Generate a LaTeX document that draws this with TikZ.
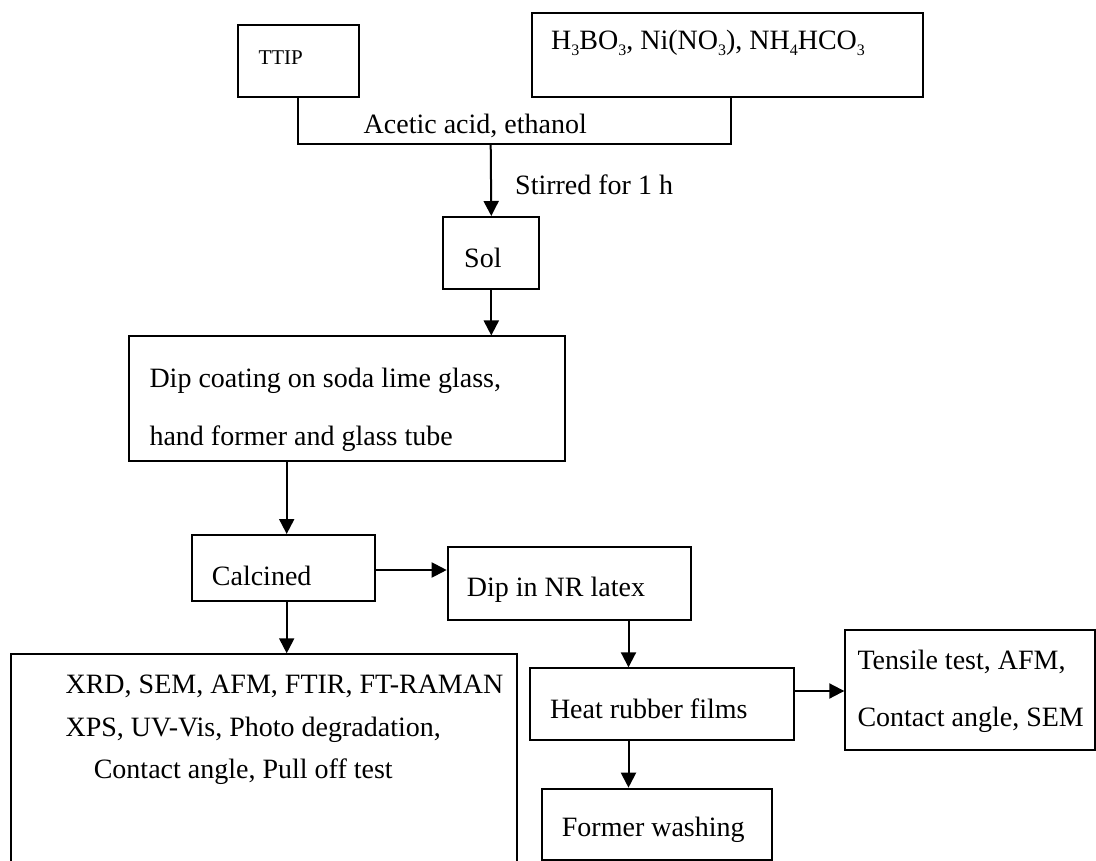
\documentclass[tikz,border=0pt]{standalone}
\usepackage{fontspec}
\setmainfont{Liberation Serif}
\usetikzlibrary{arrows.meta,calc}
\newcommand{\sbs}[1]{\raisebox{-6pt}{\fontsize{16}{16}\selectfont #1}}
\begin{document}
\begin{tikzpicture}[x=1pt,y=-1pt,
  box/.style={draw,line width=2pt,rectangle,inner sep=0pt,anchor=north west},
  txt/.style={inner sep=0pt,anchor=base west,font=\fontsize{28}{34}\selectfont},
  arr/.style={line width=2pt,-{Triangle[length=15pt,width=15pt]}},
  ln/.style={line width=2pt}]
\useasboundingbox (0,0) rectangle (1096,861);
% boxes
\node[box,minimum width=121pt,minimum height=72pt] (ttip) at (236.7,24) {};
\node[box,minimum width=390.7pt,minimum height=84pt] (chem) at (531,12) {};
\node[box,minimum width=96pt,minimum height=72.3pt] (sol) at (442.3,216) {};
\node[box,minimum width=435.3pt,minimum height=124.5pt] (dip) at (128.3,335.5) {};
\node[box,minimum width=183.6pt,minimum height=66pt] (calc) at (190.7,534) {};
\node[box,minimum width=243.1pt,minimum height=72.3pt] (nr) at (446.7,546.3) {};
\node[box,minimum width=505.5pt,minimum height=215pt] (anal) at (10,653.3) {};
\node[box,minimum width=264.4pt,minimum height=72pt] (heat) at (528.9,667.3) {};
\node[box,minimum width=250pt,minimum height=119.7pt] (tens) at (844.3,629.3) {};
\node[box,minimum width=230pt,minimum height=71.6pt] (form) at (540.7,787.7) {};
% texts
\node[txt,font=\fontsize{21}{25}\selectfont] (tTTIP) at (258.3,65) {TTIP};
\node[txt] (tchem) at (551,50) {H\sbs{3}BO\sbs{3}, Ni(NO\sbs{3}), NH\sbs{4}HCO\sbs{3}};
\node[txt] (tacet) at (363.5,133.3) {Acetic acid, ethanol};
\node[txt] (tstir) at (515,195) {Stirred for 1 h};
\node[txt] (tsol) at (464,267.3) {Sol};
\node[txt] (tdip1) at (149.3,387.3) {Dip coating on soda lime glass,};
\node[txt] (tdip2) at (149.3,445) {hand former and glass tube};
\node[txt] (tcalc) at (211.7,585) {Calcined};
\node[txt] (tnr) at (466.7,596.7) {Dip in NR latex};
\node[txt] (tan1) at (65.4,693.3) {XRD, SEM, AFM, FTIR, FT-RAMAN};
\node[txt] (tan2) at (65.4,736.7) {XPS, UV-Vis, Photo degradation,};
\node[txt] (tan3) at (93.6,778.3) {Contact angle, Pull off test};
\node[txt] (theat) at (549.8,718.3) {Heat rubber films};
\node[txt] (tten1) at (857.3,669) {Tensile test, AFM,};
\node[txt] (tten2) at (857.3,726.7) {Contact angle, SEM};
\node[txt] (tform) at (561.7,836.7) {Former washing};
% connectors
\coordinate (jn) at (490.7,144);
\coordinate (colr) at (731,0);
\coordinate (colc) at (286.7,0);
\coordinate (rowc) at (0,570);
\coordinate (colh) at (628.5,0);
\coordinate (rowh) at (0,691);
\draw[ln] (ttip.south) |- (jn) -| (chem.south -| colr);
\draw[arr] (jn) -- (sol.north);
\draw[arr] (sol.south) -- (dip.north -| sol.south);
\draw[arr] (dip.south -| colc) -- (calc.north -| colc);
\draw[arr] (calc.south -| colc) -- (anal.north -| colc);
\draw[arr] (calc.east |- rowc) -- (nr.west |- rowc);
\draw[arr] (nr.south -| colh) -- (heat.north -| colh);
\draw[arr] (heat.south -| colh) -- (form.north -| colh);
\draw[arr] (heat.east |- rowh) -- (tens.west |- rowh);
\end{tikzpicture}
\end{document}
